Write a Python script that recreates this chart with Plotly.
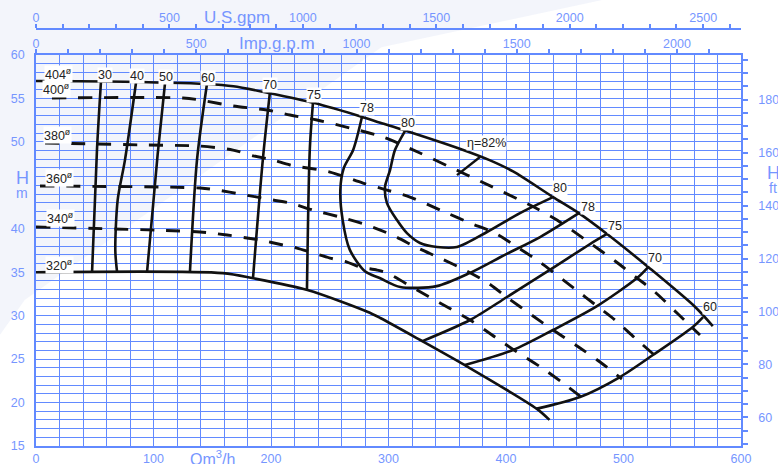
import plotly.graph_objects as go

# ---------------------------------------------------------------------------
# Unit conversions for the secondary scales
M3H_TO_USGPM = 4.40287
M3H_TO_IMPGPM = 3.66615
M_TO_FT = 3.28084

Q_RANGE = [0, 600]
H_RANGE = [15, 60]

# left scale labels (the slot at 45 m carries the axis name instead)
h_ticks = [15, 20, 25, 30, 35, 40, 45, 50, 55, 60]
h_ticktext = ["15", "20", "25", "30", "35", "40", "", "50", "55", "60"]

# ---------------------------------------------------------------------------
# Head curves per impeller diameter (Q in m3/h, H in m)
d404_q = [0, 60, 145, 168, 199, 236, 277, 293, 312, 363, 386, 406, 440, 462, 486, 521, 561, 576]
d404_h = [57.0, 56.95, 56.66, 56.4, 55.6, 54.5, 52.9, 52.2, 51.4, 49.1, 47.9, 46.6, 43.65, 41.8, 39.4, 35.6, 31.0, 28.8]

d320_q = [0, 159, 185, 231, 282, 293, 327, 365, 426, 437]
d320_h = [35.0, 34.9, 34.3, 32.95, 30.45, 29.73, 27.2, 24.3, 19.3, 18.0]

d400_q = [13.6, 125.1, 139.6, 167.7, 196.6, 216.2, 239.1, 267.2, 295.3, 326.8, 352.3, 377.9,
          420.4, 443.4, 471.5, 492.8, 511.5, 526.8, 546.4, 565.1]
d400_h = [55.05, 55.05, 54.82, 54.13, 53.67, 53.09, 52.52, 51.59, 50.56, 48.72, 47.11, 45.49,
          42.73, 41.0, 38.36, 36.29, 34.33, 32.72, 30.19, 27.77]

d380_q = [7.7, 94.5, 139.6, 167.7, 184.7, 201.7, 216.2, 250.2, 278.3, 298.7, 318.3, 349.8,
          369.4, 390.6, 409.4, 426.4, 440.0, 458.7, 477.4, 492.8, 509.8, 531.1]
d380_h = [49.87, 49.64, 49.52, 49.06, 48.4, 47.91, 47.34, 46.53, 45.26, 44.46, 43.65, 41.81,
          40.66, 39.51, 37.9, 36.4, 35.02, 33.07, 31.11, 29.5, 27.43, 24.9]

d360_q = [3.4, 139.6, 154.0, 173.6, 201.7, 216.2, 235.7, 258.7, 281.7, 303.0, 325.1, 343.8,
          365.1, 384.7, 401.7, 423.0, 440.0, 463.0, 480.0, 498.7]
d360_h = [44.92, 44.69, 44.46, 44.0, 43.31, 42.96, 42.16, 41.35, 40.43, 39.28, 37.78, 36.63,
          35.25, 33.76, 32.03, 29.96, 28.35, 26.28, 24.67, 22.71]

d340_q = [0, 139.6, 162.6, 179.6, 190.6, 210.2, 222.1, 235.7, 250.2, 264.7, 275.7, 290.2,
          298.7, 324.3, 343.8, 369.4, 390.6, 409.4, 429.4, 448.5, 467.2]
d340_h = [40.2, 39.63, 39.28, 38.94, 38.71, 38.13, 37.78, 37.21, 36.63, 36.17, 35.6, 35.25,
          34.91, 32.95, 31.46, 29.5, 27.54, 25.82, 24.09, 22.25, 20.29]

# ---------------------------------------------------------------------------
# Iso-efficiency curves (%)
eff30_q, eff30_h = [55.3, 51.9, 47.7], [56.95, 49.1, 35.0]
eff40_q, eff40_h = [85.1, 75.7, 69.5, 67.5, 69.0], [56.8, 47.9, 43.3, 37.5, 35.0]
eff50_q, eff50_h = [109.8, 103.5, 94.5], [56.75, 48.5, 35.0]
eff60_q, eff60_h = [145.5, 137.0, 131.0], [56.66, 47.9, 35.0]
eff70a_q, eff70a_h = [199.0, 193.0, 184.7], [55.6, 47.9, 34.35]
eff75a_q, eff75a_h = [235.7, 233.0, 230.6], [54.5, 49.1, 32.95]

eff78_q = [277.4, 270, 262, 259, 261, 267, 280, 293, 310, 341, 369, 399, 429, 462]
eff78_h = [52.86, 49.1, 47.0, 44.5, 41.0, 37.6, 35.1, 34.3, 33.3, 33.4, 34.9, 37.0, 39.05, 41.8]

eff80_q = [314, 305.5, 301.3, 297, 298.7, 307.2, 315.7, 326.8, 341.3, 358.3, 383.8, 411.9, 440]
eff80_h = [51.25, 49.06, 46.76, 44.8, 42.96, 41.0, 39.5, 38.36, 37.9, 37.9, 39.63, 41.81, 43.65]

eff75b_q, eff75b_h = [486, 471.5, 440, 400.9, 369.4, 329.4], [39.4, 38.24, 35.5, 32.15, 29.5, 27.1]
eff70b_q, eff70b_h = [521, 511.5, 477.4, 440, 406, 365.1], [35.6, 34.33, 31.1, 28.35, 26.05, 24.32]
eff60b_q, eff60b_h = [426.4, 463, 497, 525, 559, 567.7], [19.3, 20.64, 22.94, 25.47, 28.7, 29.84]

# best efficiency marker
bep_q, bep_h = [358.3, 377.9], [46.18, 48.26]

# ---------------------------------------------------------------------------
BLUE = "rgb(98,138,255)"
TICK_BLUE = "rgb(118,150,255)"
INK = "#111111"
FONT = "Liberation Sans, Arial, sans-serif"

fig = go.Figure()


def curve(q, h, dashed=False, width=2.6):
    fig.add_trace(go.Scatter(
        x=q, y=h, mode="lines",
        line=dict(color=INK, width=2.9 if dashed else width,
                  dash="14px,12px" if dashed else "solid",
                  shape="spline", smoothing=0.8),
        hoverinfo="skip", showlegend=False))


# dashed intermediate diameters
for q, h in [(d400_q, d400_h), (d380_q, d380_h), (d360_q, d360_h), (d340_q, d340_h)]:
    curve(q, h, dashed=True)

# efficiency curves
for q, h in [(eff30_q, eff30_h), (eff40_q, eff40_h), (eff50_q, eff50_h), (eff60_q, eff60_h),
             (eff70a_q, eff70a_h), (eff75a_q, eff75a_h), (eff78_q, eff78_h), (eff80_q, eff80_h),
             (eff75b_q, eff75b_h), (eff70b_q, eff70b_h), (eff60b_q, eff60b_h)]:
    curve(q, h)

# max / min diameter
curve(d404_q, d404_h)
curve(d320_q, d320_h)

fig.add_trace(go.Scatter(x=bep_q, y=bep_h, mode="lines",
                         line=dict(color=INK, width=2.4),
                         hoverinfo="skip", showlegend=False))

# placeholder traces so the secondary scales are drawn
fig.add_trace(go.Scatter(x=[None], y=[None], xaxis="x2", yaxis="y", showlegend=False))
fig.add_trace(go.Scatter(x=[None], y=[None], xaxis="x3", yaxis="y", showlegend=False))
fig.add_trace(go.Scatter(x=[None], y=[None], xaxis="x", yaxis="y2", showlegend=False))

# ---------------------------------------------------------------------------
# Labels
lab_font = dict(family=FONT, size=12.5, color="#222222")


def label(text, q, h, dx, dy):
    fig.add_annotation(x=q, y=h, xref="x", yref="y", text=text, showarrow=False,
                       xshift=dx, yshift=dy, font=lab_font, bgcolor="white", borderpad=0,
                       xanchor="center", yanchor="middle")


label("404<sup>ø</sup>", d404_q[0], d404_h[0], 22, 7)
label("400<sup>ø</sup>", d400_q[0], d400_h[0], 5, 9)
label("380<sup>ø</sup>", d380_q[0], d380_h[0], 12, 8)
label("360<sup>ø</sup>", d360_q[0], d360_h[0], 19, 8)
label("340<sup>ø</sup>", d340_q[0], d340_h[0], 24, 9)
label("320<sup>ø</sup>", d320_q[0], d320_h[0], 23, 7)

label("30", eff30_q[0], eff30_h[0], 4, 6)
label("40", eff40_q[0], eff40_h[0], 1, 7)
label("50", eff50_q[0], eff50_h[0], 1, 6)
label("60", eff60_q[0], eff60_h[0], 1, 6)
label("70", eff70a_q[0], eff70a_h[0], 0, 8)
label("75", eff75a_q[0], eff75a_h[0], 1, 8)
label("78", eff78_q[0], eff78_h[0], 5, 9)
label("80", eff80_q[0], eff80_h[0], 3, 8)
label("η=82%", bep_q[-1], bep_h[-1], 6, 14)
label("80", eff80_q[-1], eff80_h[-1], 7, 9)
label("78", eff78_q[-1], eff78_h[-1], 9, 6)
label("75", eff75b_q[0], eff75b_h[0], 8, 8)
label("70", eff70b_q[0], eff70b_h[0], 7, 9)
label("60", eff60b_q[-1], eff60b_h[-1], 7, 10)


# axis names
def axis_name(text, x, y, xref, yref, size):
    fig.add_annotation(x=x, y=y, xref=xref, yref=yref, text=text, showarrow=False,
                       xanchor="center", yanchor="middle",
                       font=dict(family=FONT, size=size, color=TICK_BLUE))


axis_name("U.S.gpm", 171, (446 - 17) / 426, "x", "paper", 17)
axis_name("Imp.g.p.m", 205, (446 - 43) / 426, "x", "paper", 17)
axis_name("Qm<sup>3</sup>/h", 150, -12 / 426, "x", "paper", 16)
axis_name("H", -14 / 705, 45.85, "paper", "y", 18)
axis_name("m", -14 / 705, 44.1, "paper", "y", 14)
axis_name("H", 1 + 32 / 705, 46.4, "paper", "y", 18)
axis_name("ft", 1 + 32 / 705, 44.7, "paper", "y", 14)

# faint sheen in the upper-left corner
fig.add_shape(type="path", xref="paper", yref="paper", layer="below",
              path="M -0.06 1.06 L 0.84 1.06 L 0.49 0.936 L -0.016 0.343 L -0.06 0.24 Z",
              fillcolor="rgba(228,232,247,0.45)", line=dict(width=0))

tick_font = dict(family=FONT, size=12.5, color=TICK_BLUE)
Y_TOP = 391 / 426

common = dict(automargin=False, zeroline=False, tickfont=tick_font)
minor_ticks = dict(ticks="outside", ticklen=4, tickcolor=BLUE, tickwidth=1.5)

fig.update_layout(
    width=778, height=464,
    margin=dict(l=36, r=37, t=20, b=18, autoexpand=False),
    paper_bgcolor="white", plot_bgcolor="rgba(0,0,0,0)",
    showlegend=False,
    xaxis=dict(range=Q_RANGE, dtick=100, tick0=0, showgrid=True, gridcolor=BLUE, gridwidth=1.3,
               minor=dict(dtick=20, tick0=0, showgrid=True, gridcolor=BLUE, gridwidth=1.3),
               showline=True, linecolor=BLUE, linewidth=1.5,
               ticks="", ticklabelstandoff=0, domain=[0, 1], **common),
    yaxis=dict(range=H_RANGE, tickmode="array", tickvals=h_ticks, ticktext=h_ticktext,
               showgrid=True, gridcolor=BLUE, gridwidth=1.3,
               minor=dict(dtick=1, tick0=0, showgrid=True, gridcolor=BLUE, gridwidth=1.3),
               showline=True, linecolor=BLUE, linewidth=1.5,
               ticks="", ticklabelstandoff=7, domain=[0, Y_TOP], **common),
    xaxis2=dict(range=[Q_RANGE[0] * M3H_TO_IMPGPM, Q_RANGE[1] * M3H_TO_IMPGPM],
                overlaying="x", anchor="y", side="top", dtick=500, tick0=0,
                ticks="outside", ticklen=4, tickcolor=BLUE, tickwidth=1.5,
                minor=dict(dtick=100, tick0=0, **minor_ticks),
                showline=True, linecolor=BLUE, linewidth=1.5, showgrid=False,
                ticklabelstandoff=-4, **common),
    xaxis3=dict(range=[Q_RANGE[0] * M3H_TO_USGPM, Q_RANGE[1] * M3H_TO_USGPM],
                overlaying="x", anchor="free", position=(446 - 29) / 426, side="top",
                dtick=500, tick0=0,
                ticks="outside", ticklen=4, tickcolor=BLUE, tickwidth=1.5,
                minor=dict(dtick=100, tick0=0, **minor_ticks),
                showline=True, linecolor=BLUE, linewidth=1.5, showgrid=False,
                ticklabelstandoff=-3, **common),
    yaxis2=dict(range=[H_RANGE[0] * M_TO_FT, H_RANGE[1] * M_TO_FT],
                overlaying="y", anchor="x", side="right", dtick=20, tick0=0,
                ticks="outside", ticklen=5, tickcolor=BLUE, tickwidth=1.5,
                minor=dict(dtick=5, tick0=0, ticks="outside", ticklen=5, tickcolor=BLUE, tickwidth=1.5),
                showline=True, linecolor=BLUE, linewidth=1.5, showgrid=False,
                ticklabelstandoff=8, **common),
)

fig.write_html("out.html")
